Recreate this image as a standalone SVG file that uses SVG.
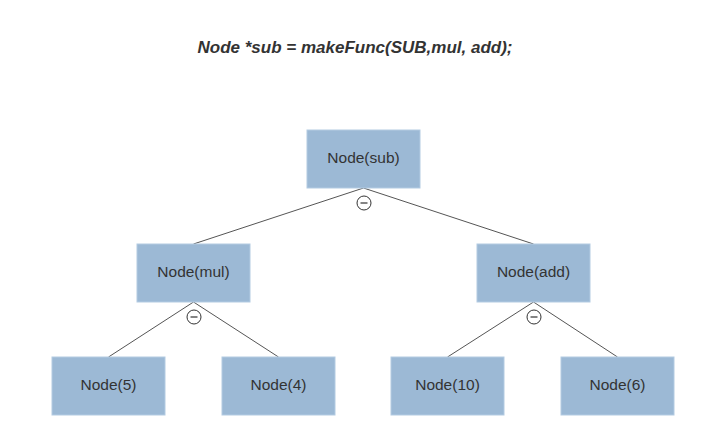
<svg xmlns="http://www.w3.org/2000/svg" width="710" height="446" viewBox="0 0 710 446">
<style>
.box{fill:#9cb9d5;stroke:#b3cbe2;stroke-width:1}
.lbl{font-family:"Liberation Sans",Arial,sans-serif;font-size:15.5px;fill:#333;text-anchor:middle}
.title{font-family:"Liberation Sans",Arial,sans-serif;font-size:17px;font-weight:bold;font-style:italic;fill:#333;text-anchor:middle}
.edge{stroke:#555;stroke-width:1;fill:none}
.op circle{fill:#fff;stroke:#333;stroke-width:1}
.op line{stroke:#333;stroke-width:1.2}
</style>
<rect width="710" height="446" fill="#fff"/>
<text class="title" x="355" y="53">Node *sub = makeFunc(SUB,mul, add);</text>
<g id="connectors">
<path class="edge" d="M363.5 188 L193.5 244 M363.5 188 L533.5 244"/>
<path class="edge" d="M193.5 302 L108.5 357 M193.5 302 L278.5 357"/>
<path class="edge" d="M533.5 302 L447.5 357 M533.5 302 L617.5 357"/>
<g class="op"><circle cx="364" cy="203" r="7"/><line x1="360.5" y1="203" x2="367.5" y2="203"/></g>
<g class="op"><circle cx="194" cy="317" r="7"/><line x1="190.5" y1="317" x2="197.5" y2="317"/></g>
<g class="op"><circle cx="534" cy="317" r="7"/><line x1="530.5" y1="317" x2="537.5" y2="317"/></g>
</g>
<g id="node-sub"><rect class="box" x="307" y="130" width="113" height="58"/><text class="lbl" x="363.5" y="163">Node(sub)</text></g>
<g id="node-mul"><rect class="box" x="137" y="244" width="113" height="58"/><text class="lbl" x="193.5" y="277">Node(mul)</text></g>
<g id="node-add"><rect class="box" x="477" y="244" width="113" height="58"/><text class="lbl" x="533.5" y="277">Node(add)</text></g>
<g id="node-5"><rect class="box" x="52" y="357" width="113" height="58"/><text class="lbl" x="108.5" y="390">Node(5)</text></g>
<g id="node-4"><rect class="box" x="222" y="357" width="113" height="58"/><text class="lbl" x="278.5" y="390">Node(4)</text></g>
<g id="node-10"><rect class="box" x="391" y="357" width="113" height="58"/><text class="lbl" x="447.5" y="390">Node(10)</text></g>
<g id="node-6"><rect class="box" x="561" y="357" width="113" height="58"/><text class="lbl" x="617.5" y="390">Node(6)</text></g>
</svg>
